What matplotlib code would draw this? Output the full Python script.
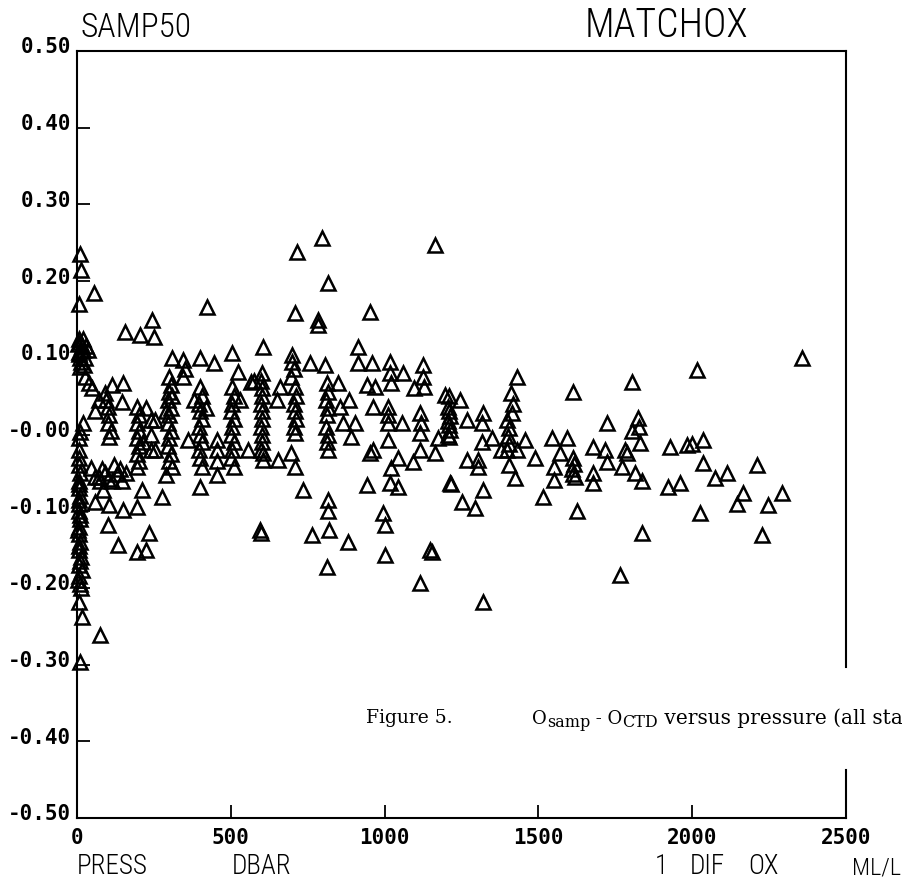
import matplotlib
matplotlib.use("Agg")
import matplotlib.pyplot as plt
import matplotlib.transforms as mtransforms
from matplotlib.ticker import FixedLocator, FixedFormatter

# ---------------- data (pressure in dbar, oxygen difference in ml/l) ----------------
surface_press = [10, 12, 8, 55, 5, 10, 15, 20, 8, 25, 30, 12, 36, 18, 22,
                 10, 25, 40, 50, 70, 90, 115, 150, 145, 60, 20, 10, 5, 45,
                 8, 8, 6, 10, 8, 6, 10, 8, 6, 10, 8, 6, 10, 8, 12, 6, 15, 8, 10, 12, 8, 15, 75, 10,
                 4, 6, 9, 5, 7, 11, 3, 6, 9, 4]
surface_dif = [0.235, 0.215, 0.17, 0.184, 0.125, 0.12, 0.115, 0.11, 0.105, 0.10, 0.115, 0.095, 0.11, 0.125, 0.09,
               0.088, 0.075, 0.067, 0.06, 0.045, 0.054, 0.065, 0.067, 0.042, 0.03, 0.015, 0.003, -0.03, -0.044,
               -0.005, -0.02, -0.04, -0.05, -0.06, -0.07, -0.08, -0.09, -0.10, -0.11, -0.12, -0.13, -0.14, -0.15,
               -0.16, -0.17, -0.177, -0.185, -0.195, -0.20, -0.218, -0.238, -0.261, -0.297,
               0.118, 0.108, 0.10, -0.065, -0.085, -0.105, -0.125, -0.145, -0.165, -0.19]

upper_press = [60, 75, 90, 100, 115, 130, 145, 140, 120,
               85, 60, 105, 150, 195, 210, 100, 133, 195, 225, 235,
               100, 105, 100, 110, 105, 95,
               195, 200, 195, 200, 195, 200, 195, 200, 195,
               225, 240, 240, 215,
               300, 305, 300, 295, 305, 300, 295, 305, 300, 295, 305, 300, 310, 290, 310,
               310, 345, 350, 345, 400, 445, 505, 525, 565,
               156, 205, 245, 250, 423,
               400, 405, 395, 400, 405, 395, 400, 405, 395, 400, 405, 380, 420,
               360, 455, 455, 455, 455,
               505, 510, 505, 500, 510, 505, 500, 510, 505, 500, 510, 530,
               555, 400, 275, 290, 253, 253, 240, 70, 80, 160]
upper_dif = [-0.055, -0.06, -0.05, -0.058, -0.06, -0.052, -0.06, -0.045, -0.04,
             -0.072, -0.088, -0.092, -0.098, -0.094, -0.072, -0.118, -0.144, -0.153, -0.151, -0.128,
             0.036, 0.025, 0.015, 0.005, -0.003, 0.045,
             0.036, 0.025, 0.015, 0.005, -0.005, -0.015, -0.025, -0.035, -0.042,
             0.035, 0.019, -0.02, -0.01,
             0.075, 0.065, 0.055, 0.045, 0.035, 0.025, 0.015, 0.005, -0.005, -0.015, -0.025, -0.035, -0.042, 0.03, 0.05,
             0.10, 0.097, 0.085, 0.075, 0.10, 0.093, 0.106, 0.082, 0.069,
             0.134, 0.13, 0.149, 0.127, 0.166,
             0.062, 0.05, 0.04, 0.03, 0.02, 0.01, 0.0, -0.01, -0.02, -0.03, -0.042, 0.045, 0.035,
             -0.007, -0.007, -0.02, -0.035, -0.053,
             0.062, 0.05, 0.04, 0.03, 0.02, 0.01, 0.0, -0.01, -0.02, -0.03, -0.042, 0.045,
             -0.02, -0.068, -0.081, -0.053, 0.019, -0.02, 0.0, -0.055, -0.045, -0.05]

mid_press = [796, 715, 1164, 816, 709, 783, 785, 952, 605, 698, 700, 705, 695, 757, 806, 913, 913, 958,
             1017, 1017, 1020, 1060, 1125, 1125, 1128, 1095,
             601, 598, 603, 600, 598, 603, 600, 598, 603, 600, 598, 605, 575,
             660, 650,
             709, 712, 706, 709, 712, 706, 709, 695, 605, 655, 709,
             813, 815, 811, 815, 813, 811, 815, 813, 815, 849, 855, 865, 885, 890, 905, 943, 968, 962,
             1012, 1012, 1012, 1055, 1115, 1117, 1115, 1012, 962, 952, 1045, 1020, 1093, 1115, 1164, 1173,
             735, 943, 1017, 1045, 815, 815, 818, 764, 595, 598, 881, 995, 1000, 1001, 1148, 813, 1115]
mid_dif = [0.256, 0.238, 0.247, 0.197, 0.158, 0.149, 0.143, 0.16, 0.114, 0.104, 0.095, 0.085, 0.075, 0.093, 0.091, 0.114, 0.093, 0.093,
           0.094, 0.08, 0.067, 0.08, 0.09, 0.075, 0.062, 0.06,
           0.08, 0.07, 0.06, 0.05, 0.04, 0.03, 0.02, 0.01, 0.0, -0.01, -0.02, -0.024, 0.07,
           0.062, 0.045,
           0.062, 0.05, 0.04, 0.03, 0.02, 0.01, 0.002, -0.024, -0.033, -0.033, -0.042,
           0.067, 0.055, 0.045, 0.035, 0.025, 0.01, 0.0, -0.01, -0.02, 0.067, 0.036, 0.015, 0.045, -0.003, 0.015, 0.065, 0.062, 0.036,
           0.036, 0.025, 0.015, 0.015, 0.028, 0.015, 0.002, -0.007, -0.02, -0.024, -0.031, -0.044, -0.036, -0.02, -0.024, -0.005,
           -0.072, -0.066, -0.063, -0.068, -0.085, -0.10, -0.124, -0.131, -0.125, -0.128, -0.14, -0.102, -0.118, -0.157, -0.151, -0.173, -0.194]

deep_press = [1196, 1210, 1245,
              1206, 1210, 1213, 1206, 1210, 1213, 1206, 1210,
              1268, 1213, 1215, 1252, 1294, 1320,
              1320, 1318, 1318, 1268, 1305, 1305, 1349,
              1430, 1410, 1418, 1415,
              1398, 1405, 1400, 1405, 1398, 1380, 1405, 1430, 1456, 1489, 1424, 1515, 1544, 1593, 1570, 1550, 1550, 1613,
              1613, 1616, 1610, 1613, 1618,
              1626, 1678, 1678, 1678, 1723, 1718, 1723, 1772, 1780, 1805, 1805, 1765, 1320, 1154,
              2015, 2357, 1824, 1827, 1830, 1788, 1814, 1837, 1928, 1983, 2000, 2035, 2035, 2074, 2113,
              1921, 1960, 2211, 2165, 2146, 2292, 2246, 2025, 1837, 2227]
deep_dif = [0.051, 0.05, 0.045,
            0.036, 0.03, 0.024, 0.018, 0.012, 0.006, 0.0, -0.003,
            0.019, -0.063, -0.065, -0.088, -0.096, -0.072,
            0.028, 0.015, -0.01, -0.033, -0.033, -0.042, -0.005,
            0.075, 0.054, 0.04, 0.028,
            0.019, 0.008, -0.002, -0.012, -0.02, -0.02, -0.04, -0.02, -0.007, -0.03, -0.057, -0.081, -0.005, -0.005, -0.024, -0.042, -0.059, 0.055,
            -0.03, -0.038, -0.045, -0.052, -0.056,
            -0.10, -0.016, -0.05, -0.063, 0.015, -0.02, -0.036, -0.042, -0.02, 0.068, 0.004, -0.183, -0.218, -0.153,
            0.084, 0.10, 0.022, 0.01, -0.011, -0.024, -0.05, -0.06, -0.016, -0.014, -0.012, -0.007, -0.037, -0.057, -0.05,
            -0.068, -0.063, -0.04, -0.076, -0.09, -0.076, -0.092, -0.102, -0.128, -0.131]

pressure = surface_press + upper_press + mid_press + deep_press
dif_ox = surface_dif + upper_dif + mid_dif + deep_dif

x_ticks = [0, 500, 1000, 1500, 2000, 2500]
x_tick_labels = ["0", "500", "1000", "1500", "2000", "2500"]
y_ticks = [0.5, 0.4, 0.3, 0.2, 0.1, 0.0, -0.1, -0.2, -0.3, -0.4, -0.5]
y_tick_labels = ["0.50", "0.40", "0.30", "0.20", "0.10", "-0.00",
                 "-0.10", "-0.20", "-0.30", "-0.40", "-0.50"]

# ---------------- figure ----------------
W, H = 902, 881
fig = plt.figure(figsize=(W / 100, H / 100), dpi=100)
fig.patch.set_facecolor("white")

def fx(px):
    return px / W

def fy(py):
    return 1 - py / H

left, right, top, bottom = 77, 846, 51, 818
ax = fig.add_axes([fx(left), fy(bottom), fx(right) - fx(left), fy(top) - fy(bottom)])

ax.plot(pressure, dif_ox, linestyle="none", marker="^", markersize=10.5,
        markerfacecolor="none", markeredgecolor="black", markeredgewidth=1.8,
        clip_on=False, zorder=3)

ax.set_xlim(0, 2500)
ax.set_ylim(-0.5, 0.5)

ax.xaxis.set_major_locator(FixedLocator(x_ticks))
ax.xaxis.set_major_formatter(FixedFormatter(x_tick_labels))
ax.yaxis.set_major_locator(FixedLocator(y_ticks))
ax.yaxis.set_major_formatter(FixedFormatter(y_tick_labels))

ax.tick_params(axis="both", direction="in", length=9.5, width=1.3, color="black")
ax.tick_params(axis="y", pad=4)
ax.tick_params(axis="x", pad=7)
for lab in ax.get_yticklabels() + ax.get_xticklabels():
    lab.set_fontfamily("DejaVu Sans Mono")
    lab.set_fontweight("bold")
    lab.set_fontsize(15)
up = mtransforms.ScaledTranslation(0, 4 / 72, fig.dpi_scale_trans)
for lab in ax.get_yticklabels():
    lab.set_transform(lab.get_transform() + up)

for s in ["left", "top", "bottom"]:
    ax.spines[s].set_linewidth(1.5)
ax.spines["right"].set_visible(False)
# right frame interrupted by the caption
gap_lo = (bottom - 770) / (bottom - top)
gap_hi = (bottom - 667) / (bottom - top)
ax.axvline(2500, ymin=0, ymax=gap_lo, color="black", lw=1.5, clip_on=False)
ax.axvline(2500, ymin=gap_hi, ymax=1, color="black", lw=1.5, clip_on=False)

thin = dict(family=["Roboto Condensed", "DejaVu Sans"], weight="light",
            stretch="condensed", color="black")
fig.text(fx(80), fy(37), "SAMP50", fontsize=24, va="baseline", ha="left", **thin)
fig.text(fx(585), fy(37), "MATCHOX", fontsize=28.5, va="baseline", ha="left", **thin)
fig.text(fx(77), fy(874), "PRESS", fontsize=19.5, va="baseline", ha="left", **thin)
fig.text(fx(232), fy(874), "DBAR", fontsize=19.5, va="baseline", ha="left", **thin)
fig.text(fx(655), fy(874), "1", fontsize=19.5, va="baseline", ha="left", **thin)
fig.text(fx(690), fy(874), "DIF", fontsize=19.5, va="baseline", ha="left", **thin)
fig.text(fx(748), fy(874), "OX", fontsize=19.5, va="baseline", ha="left", **thin)
fig.text(fx(852), fy(874), "ML/L", fontsize=17.5, va="baseline", ha="left", **thin)

# caption (pieces chained so subscripts sit lower on the line)
serif = dict(family="DejaVu Serif", color="black")
fig.text(fx(366), fy(723), "Figure 5.", fontsize=13.5, va="baseline", ha="left", **serif)
cap0 = fig.text(fx(532), fy(723.5), "O", fontsize=13, va="baseline", ha="left", **serif)
cap_parts = [("samp", -2.8, 11.5), (" - O", 2.8, 13), ("CTD", -2.8, 11.5),
             (" versus pressure (all stations)", 2.8, 14.5)]
prev = cap0
for txt, dy, size in cap_parts:
    prev = ax.annotate(txt, xy=(1, 0), xycoords=prev, xytext=(0, dy),
                       textcoords="offset points", va="bottom", ha="left",
                       fontsize=size, annotation_clip=False, **serif)

fig.savefig("out.png", dpi=100, facecolor="white")
